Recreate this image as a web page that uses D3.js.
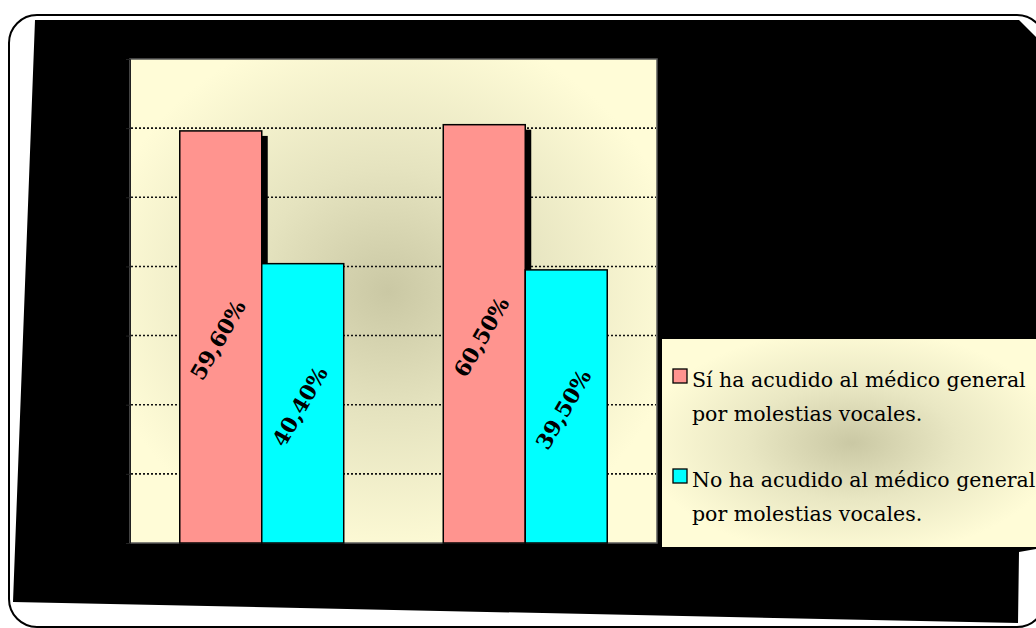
<!DOCTYPE html>
<html>
<head>
<meta charset="utf-8">
<script src="https://cdn.jsdelivr.net/npm/d3@7/dist/d3.min.js"></script>
<style>
  html, body { margin: 0; padding: 0; background: #ffffff; }
  svg { display: block; }
</style>
</head>
<body>
<div id="chart"></div>
<script>
// ---- data ----
const categories = ["grupo1", "grupo2"];
const seriesNames = [
  "Sí ha acudido al médico general por molestias vocales.",
  "No ha acudido al médico general por molestias vocales."
];
const legendLines = [
  ["Sí ha acudido al médico general", "por molestias vocales."],
  ["No ha acudido al médico general", "por molestias vocales."]
];
const siValues = [59.6, 60.5];
const noValues = [40.4, 39.5];
const seriesColors = ["#FF948F", "#00FFFF"];
const yTicks = [0, 10, 20, 30, 40, 50, 60, 70];

const W = 1036, H = 628;
const svg = d3.select("#chart").append("svg").attr("width", W).attr("height", H);
const defs = svg.append("defs");

function radial(id, stops, cx, cy, r) {
  const g = defs.append("radialGradient").attr("id", id)
    .attr("cx", cx).attr("cy", cy).attr("r", r);
  stops.forEach(s => g.append("stop").attr("offset", s[0]).attr("stop-color", s[1]));
}
radial("plotBg", [[0, "#CAC8A4"], [0.45, "#E5E3BF"], [1, "#FFFCD7"]], 0.49, 0.48, 0.56);
radial("legendBg", [[0, "#CAC8A4"], [0.5, "#E9E7C3"], [1, "#FFFCD7"]], 0.5, 0.5, 0.55);

// ---- frame and dark backdrop ----
svg.append("rect")
  .attr("x", 9).attr("y", 15).attr("width", 1036).attr("height", 612)
  .attr("rx", 28).attr("ry", 28)
  .attr("fill", "#ffffff").attr("stroke", "#000").attr("stroke-width", 2);

const backdrop = [[35, 20], [1019, 20], [1042, 43], [1042, 548], [1019, 552], [1018, 623], [13, 602]];
svg.append("path")
  .attr("d", d3.line()(backdrop) + "Z")
  .attr("fill", "#000");

// ---- plot area ----
const plot = { left: 130, right: 657, top: 59, bottom: 543 };

const x = d3.scaleBand().domain(categories).range([plot.left, plot.right]);
const xSub = d3.scaleBand().domain([0, 1]).range([0, x.bandwidth()]).paddingOuter(0.607).paddingInner(0);
const y = d3.scaleLinear().domain([0, 70]).range([plot.bottom, plot.top]);

svg.append("rect")
  .attr("x", plot.left).attr("y", plot.top)
  .attr("width", plot.right - plot.left).attr("height", plot.bottom - plot.top)
  .attr("fill", "url(#plotBg)").attr("stroke", "#5a5a5a").attr("stroke-width", 1.5);

// dotted gridlines
svg.append("g").selectAll("line")
  .data(yTicks.filter(t => t > 0 && t < 70))
  .join("line")
  .attr("x1", plot.left + 1).attr("x2", plot.right - 1)
  .attr("y1", d => y(d)).attr("y2", d => y(d))
  .attr("stroke", "#111").attr("stroke-width", 1.6)
  .attr("stroke-dasharray", "2 2");

// left axis ticks
const yAxis = svg.append("g")
  .attr("transform", `translate(${plot.left},0)`)
  .call(d3.axisLeft(y).tickValues(yTicks).tickFormat("").tickSize(4));
yAxis.select(".domain").attr("stroke", "#222");
yAxis.selectAll(".tick line").attr("stroke", "#222");

// ---- bars ----
const rows = categories.map((c, i) => ({ cat: c, vals: [siValues[i], noValues[i]] }));
const fmt = v => d3.format(".2f")(v).replace(".", ",") + "%";

const groups = svg.append("g").selectAll("g")
  .data(rows).join("g")
  .attr("transform", d => `translate(${x(d.cat)},0)`);

// drop shadow behind the first series
groups.append("rect")
  .attr("x", xSub(0) + 6)
  .attr("y", d => y(d.vals[0]) + 5)
  .attr("width", xSub.bandwidth())
  .attr("height", d => plot.bottom - y(d.vals[0]) - 5)
  .attr("fill", "#000");

groups.selectAll("rect.bar")
  .data(d => d.vals.map((v, s) => ({ v, s })))
  .join("rect")
  .attr("class", "bar")
  .attr("x", d => xSub(d.s))
  .attr("y", d => y(d.v))
  .attr("width", xSub.bandwidth())
  .attr("height", d => plot.bottom - y(d.v))
  .attr("fill", d => seriesColors[d.s])
  .attr("stroke", "#000").attr("stroke-width", 1.5);

groups.selectAll("text.val")
  .data(d => d.vals.map((v, s) => ({ v, s })))
  .join("text")
  .attr("class", "val")
  .attr("transform", d => {
    const cx = xSub(d.s) + xSub.bandwidth() / 2 - 3;
    const cy = (y(d.v) + plot.bottom) / 2 + 3;
    return `translate(${cx},${cy}) rotate(-60)`;
  })
  .attr("text-anchor", "middle")
  .attr("dy", "0.36em")
  .attr("font-family", "'DejaVu Serif', serif")
  .attr("font-weight", "bold")
  .attr("font-size", 21.5)
  .attr("fill", "#000")
  .text(d => fmt(d.v));

// ---- legend ----
const legend = svg.append("g");
legend.append("rect")
  .attr("x", 662).attr("y", 339).attr("width", 380).attr("height", 208)
  .attr("fill", "url(#legendBg)");

const itemTop = [369, 469];
const legendItems = legend.selectAll("g.item")
  .data(seriesNames.map((n, i) => ({ n, i })))
  .join("g").attr("class", "item");

legendItems.append("rect")
  .attr("x", 673).attr("y", d => itemTop[d.i])
  .attr("width", 14).attr("height", 14)
  .attr("fill", d => seriesColors[d.i])
  .attr("stroke", "#000").attr("stroke-width", 1.3);

const legendText = legendItems.append("text")
  .attr("font-family", "'DejaVu Serif', serif")
  .attr("font-size", 20.5)
  .attr("fill", "#000");

legendText.selectAll("tspan")
  .data(d => legendLines[d.i].map((t, k) => ({ t, k, i: d.i })))
  .join("tspan")
  .attr("x", 692)
  .attr("y", d => itemTop[d.i] + 18 + d.k * 34)
  .text(d => d.t);

// spread the letters so the longest line reaches the legend's right side
const probe = legendText.filter(d => d.i === 1).select("tspan").node();
const natural = probe.getComputedTextLength();
const spacing = Math.max(0, (341 - natural) / legendLines[1][0].length);
legendText.attr("letter-spacing", spacing.toFixed(2));
</script>
</body>
</html>
